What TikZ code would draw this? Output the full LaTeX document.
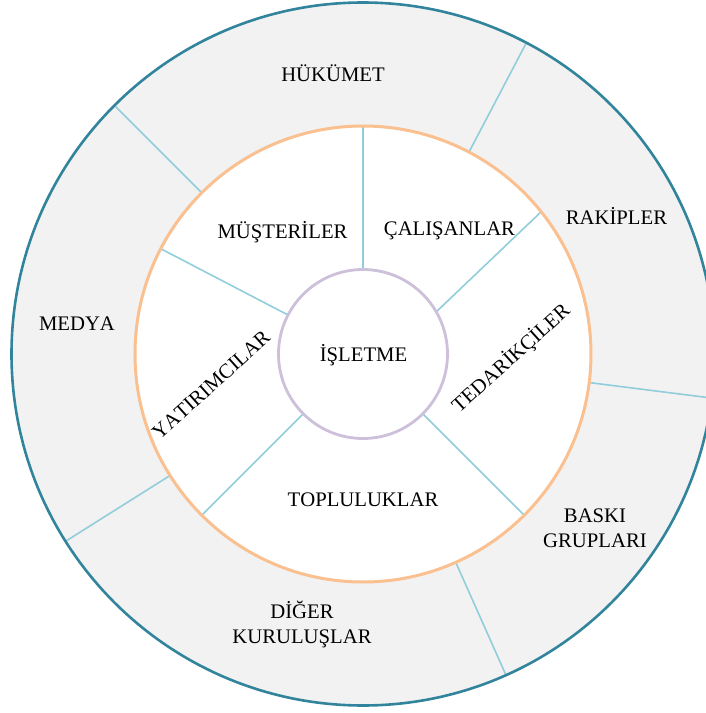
\documentclass[tikz,border=0pt]{standalone}
\usepackage{fontspec}
\setmainfont[Kerning=Off]{Liberation Serif}
\definecolor{ringteal}{HTML}{31849B}
\definecolor{ringorange}{HTML}{FAC090}
\definecolor{ringpurple}{HTML}{CCC0DA}
\definecolor{divider}{HTML}{92CDDC}
\definecolor{ringfill}{HTML}{F2F2F2}

\begin{document}
\begin{tikzpicture}[x=1pt,y=1pt,
  lbl/.style={font=\fontsize{20.7}{25}\selectfont, inner sep=0pt, anchor=base, text=black},
  rlbl/.style={font=\fontsize{20.7}{25}\selectfont, inner sep=0pt, anchor=center, rotate=42, text=black},
  sep/.style={draw=divider, line width=1.6pt},
]
\useasboundingbox (-363,-359) rectangle (343,354);
\begin{scope}
  \clip (-363,-359) rectangle (343,354);
  % outer ring of wider stakeholders
  \fill[ringfill] (0,0) circle (351.5pt);
  \fill[white] (0,0) circle (228pt);
  \foreach \a in {135,62.3,-7.2,-66,212.2}
    \draw[sep] (\a:228pt) -- (\a:351.5pt);
  % inner ring of direct stakeholders
  \foreach \a in {90,152.5,225,315}
    \draw[sep] (\a:85pt) -- (\a:228pt);
  \draw[sep] (30:85pt) -- (38.6:228pt);
  % ring outlines
  \draw[ringteal, line width=2.6pt] (0,0) circle (351.5pt);
  \draw[ringorange, line width=3pt] (0,0) circle (228pt);
  \draw[ringpurple, line width=2.8pt, fill=white] (0,0) circle (84.5pt);
\end{scope}

% centre
\node[lbl] (isletme) at (0.5,-7.7) {İŞLETME};

% inner ring labels
\node[lbl] (musteriler) at (-80.5,116) {MÜŞTERİLER};
\node[lbl] (calisanlar) at (86.5,119) {ÇALIŞANLAR};
\node[rlbl] (tedarikciler) at (148,-4) {TEDARİKÇİLER};
\node[lbl] (topluluklar) at (0,-152) {TOPLULUKLAR};
\node[rlbl] (yatirimcilar) at (-152,-31) {YATIRIMCILAR};

% outer ring labels
\node[lbl] (hukumet) at (-30,272) {HÜKÜMET};
\node[lbl] (rakipler) at (253.5,130) {RAKİPLER};
\node[lbl] (baski) at (232,-168) {BASKI};
\node[lbl] (gruplari) at (232,-193) {GRUPLARI};
\node[lbl] (diger) at (-61,-264.7) {DİĞER};
\node[lbl] (kuruluslar) at (-61,-289) {KURULUŞLAR};
\node[lbl] (medya) at (-286,23.3) {MEDYA};
\end{tikzpicture}
\end{document}
